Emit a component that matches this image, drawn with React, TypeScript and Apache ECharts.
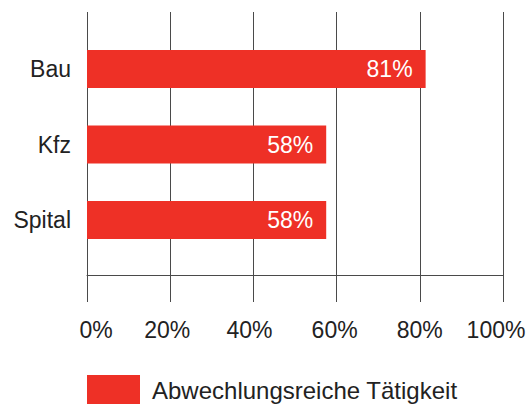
import React, { useEffect, useRef } from "react";
import * as echarts from "echarts";

const categories = ["Bau", "Kfz", "Spital"];
const values = [81.4, 57.5, 57.5];
const seriesName = "Abwechlungsreiche Tätigkeit";
const xTicks = [0, 20, 40, 60, 80, 100];

const FONT = "'Liberation Sans', Arial, Helvetica, sans-serif";
const RED = "#EE3026";
const TEXT = "#222222";
const LINE = "#4a4a4a";

// horizontal nudge (px) of each tick label, as in the reference layout
const labelNudge: Record<number, number> = { 0: 9, 20: -3, 40: -4, 60: -2, 80: 0, 100: -7 };

export default function App() {
  const ref = useRef<HTMLDivElement>(null);
  useEffect(() => {
    if (!ref.current) return;
    const chart = echarts.init(ref.current, null, { renderer: "svg", width: 527, height: 404 });
    const rich: Record<string, any> = {};
    xTicks.forEach((t) => {
      const n = labelNudge[t] || 0;
      rich["t" + t] = {
        fontSize: 23,
        color: TEXT,
        fontFamily: FONT,
        padding: n >= 0 ? [0, 0, 0, 2 * n] : [0, -2 * n, 0, 0],
      };
    });
    chart.setOption({
      animation: false,
      textStyle: { fontFamily: FONT },
      grid: [
        { left: 87, width: 416, top: 12, height: 263, outerBoundsMode: "none", containLabel: false },
        { left: 87, width: 416, top: 31.25, height: 226.5, outerBoundsMode: "none", containLabel: false },
      ],
      legend: {
        data: [seriesName],
        left: 87,
        top: 375,
        itemWidth: 53,
        itemHeight: 30,
        icon: "rect",
        padding: 0,
        textStyle: { fontSize: 24, color: TEXT, fontFamily: FONT, padding: [0, 0, 0, 7] },
      },
      xAxis: [
        {
          gridIndex: 0,
          type: "value",
          min: xTicks[0],
          max: xTicks[xTicks.length - 1],
          interval: 20,
          axisLine: { show: true, lineStyle: { color: LINE, width: 1 } },
          axisTick: { show: true, length: 27, lineStyle: { color: LINE, width: 1 } },
          splitLine: { show: true, lineStyle: { color: LINE, width: 1 } },
          axisLabel: {
            fontSize: 23,
            color: TEXT,
            fontFamily: FONT,
            margin: 43,
            hideOverlap: false,
            formatter: (v: number) => "{t" + v + "|" + v + "%}",
            rich,
          },
        },
        {
          gridIndex: 1,
          type: "value",
          min: 0,
          max: 100,
          show: false,
        },
      ],
      yAxis: [
        {
          gridIndex: 0,
          type: "category",
          data: categories,
          show: false,
        },
        {
          gridIndex: 1,
          type: "category",
          data: categories,
          inverse: true,
          axisLine: { show: false },
          axisTick: { show: false },
          splitLine: { show: false },
          axisLabel: { fontSize: 23, color: TEXT, fontFamily: FONT, margin: 16 },
        },
      ],
      series: [
        {
          name: seriesName,
          type: "bar",
          xAxisIndex: 1,
          yAxisIndex: 1,
          data: values,
          barWidth: 38,
          itemStyle: { color: RED },
          label: {
            show: true,
            position: "insideRight",
            distance: 13,
            color: "#ffffff",
            fontSize: 23,
            fontFamily: FONT,
            formatter: (p: any) => Math.round(p.value) + "%",
          },
        },
      ],
    });
    return () => chart.dispose();
  }, []);
  return (
    <div
      ref={ref}
      style={{ position: "fixed", left: 0, top: 0, width: 527, height: 404, background: "#fff" }}
    />
  );
}
